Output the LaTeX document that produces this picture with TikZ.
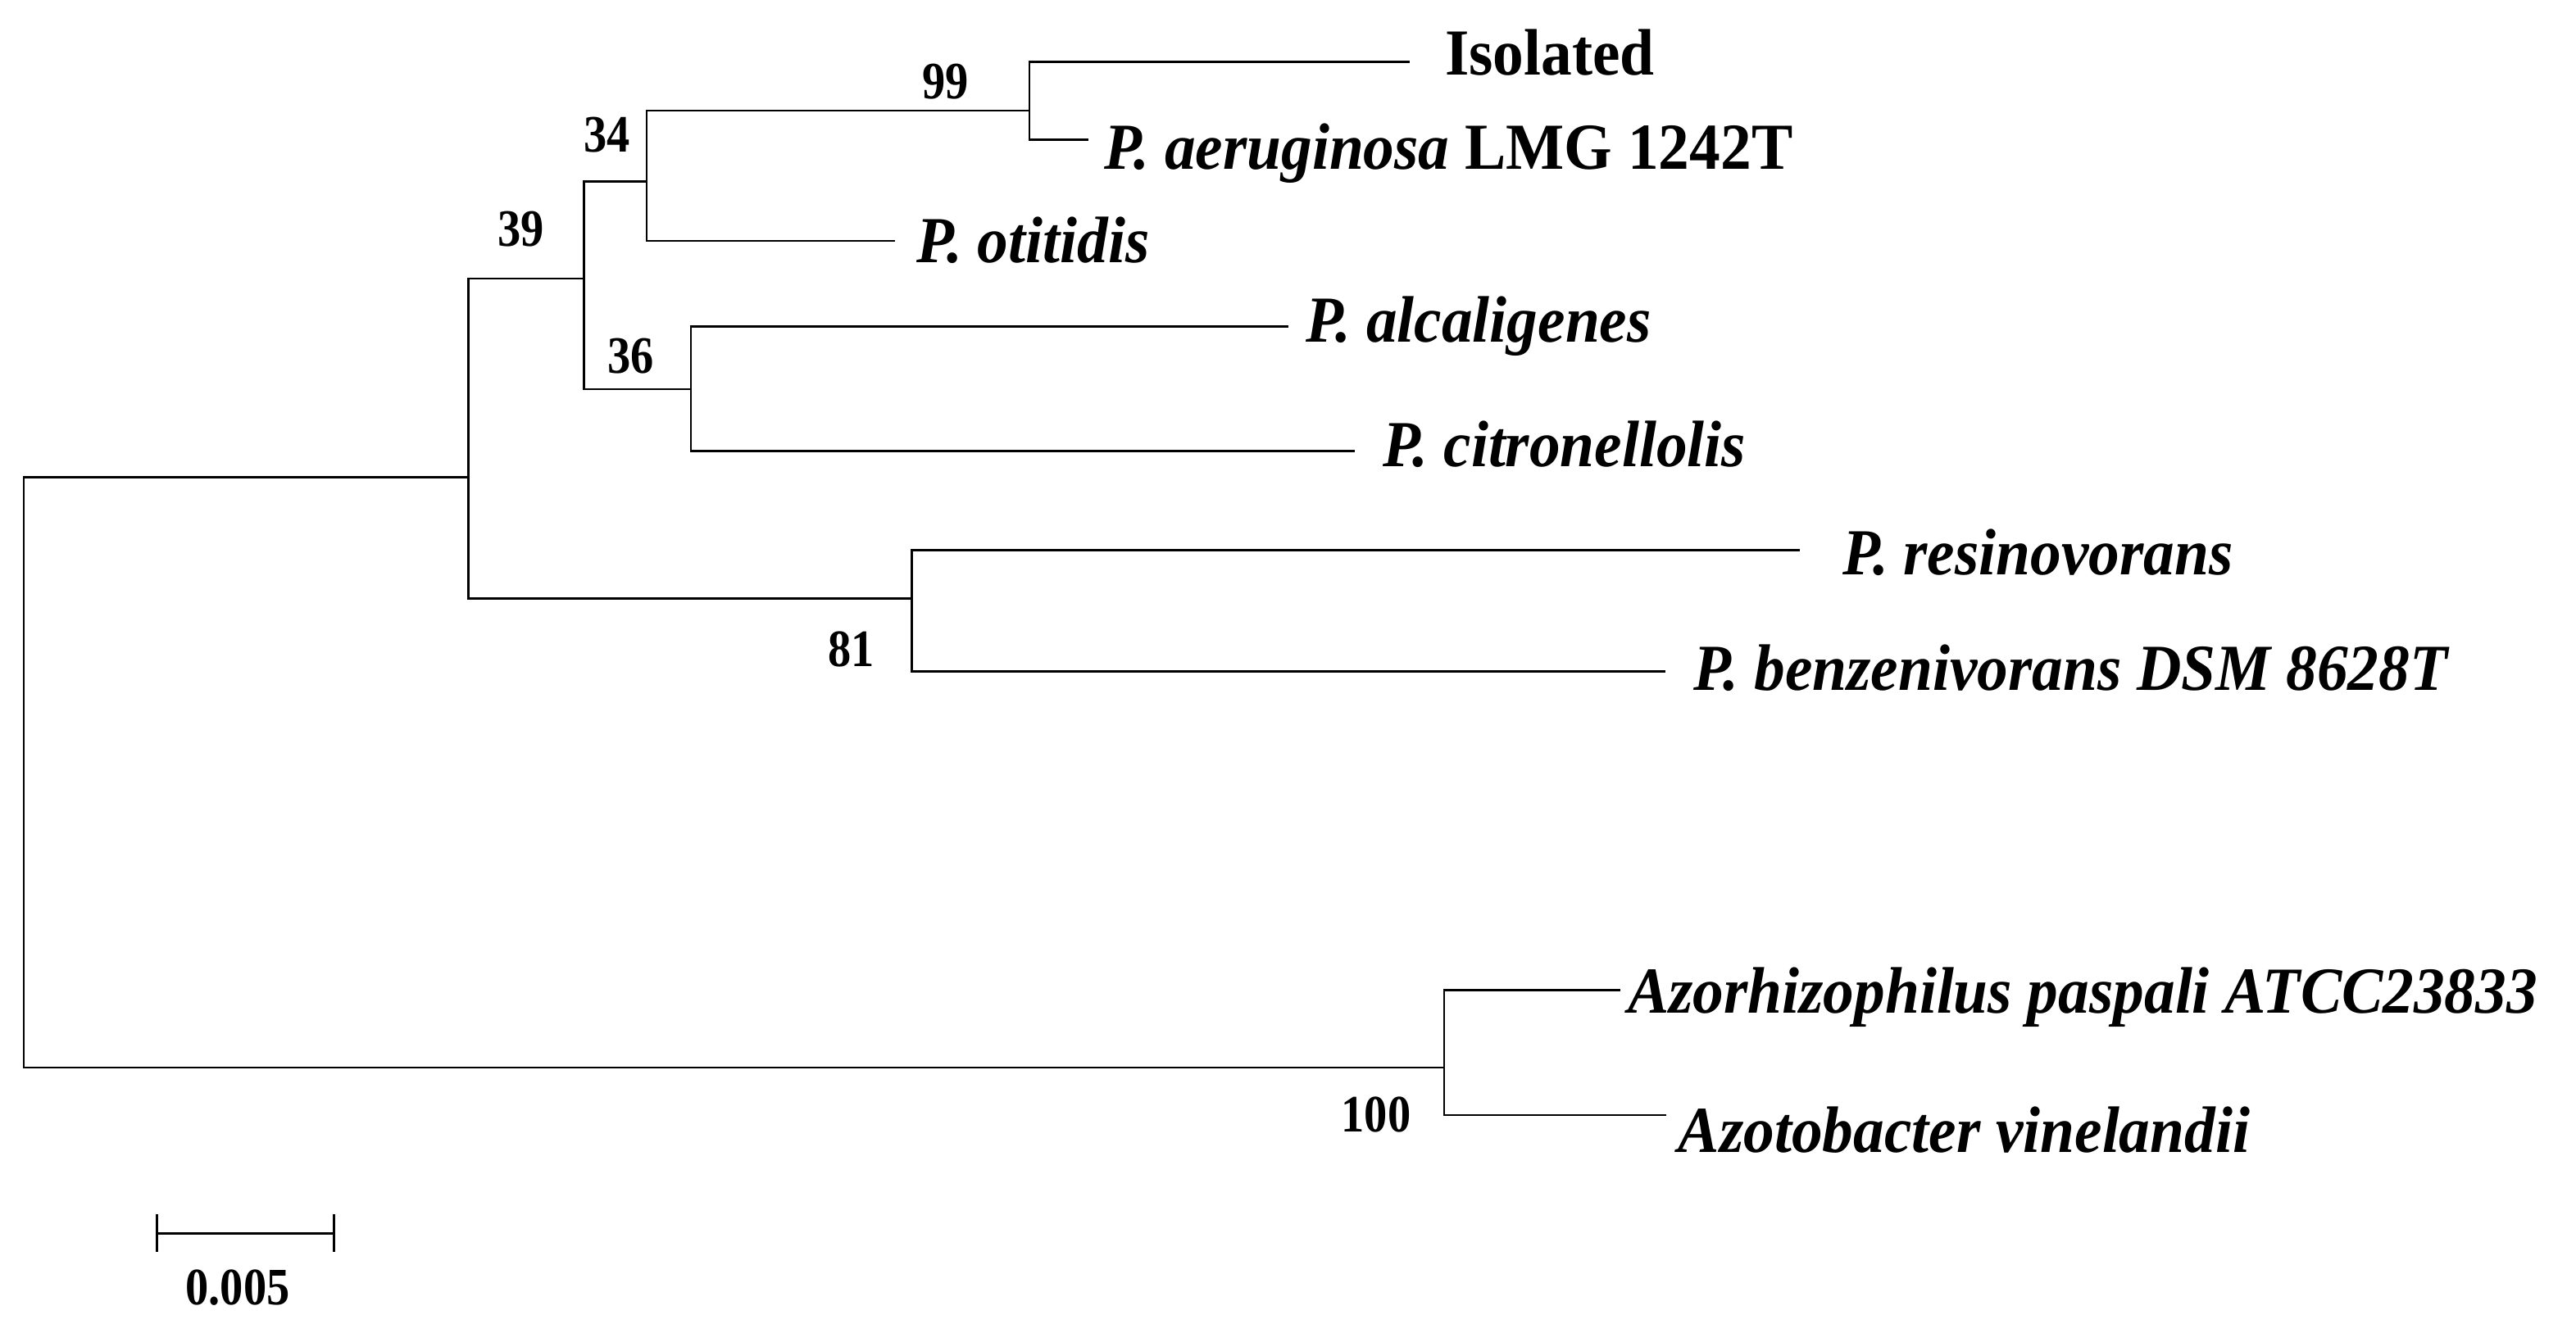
\documentclass[tikz,border=0pt]{standalone}
\usepackage{fontspec}
\setmainfont{Liberation Serif}[FakeStretch=0.94]
\newfontfamily\bsfont{Liberation Serif}[FakeStretch=0.88]
\usetikzlibrary{arrows.meta}

\begin{document}
\begin{tikzpicture}[x=1pt,y=-1pt]
\tikzset{branch/.style={line width=1.4pt,black},
  taxon/.style={anchor=base west,inner sep=0pt,font=\fontsize{40}{44}\selectfont\bfseries},
  sp/.style={taxon,font=\fontsize{40}{44}\selectfont\bfseries\itshape},
  boot/.style={anchor=base,inner sep=0pt,font=\bsfont\fontsize{32}{36}\selectfont\bfseries}}
\useasboundingbox (0,0) rectangle (1568,806);
% internal nodes
\coordinate (root) at (14.5,470);
\coordinate (nIn) at (285,290.6);
\coordinate (n39) at (355.3,169.6);
\coordinate (n34) at (393.6,110.3);
\coordinate (n99) at (626.6,67.3);
\coordinate (n36) at (420.6,237);
\coordinate (n81) at (555,364.5);
\coordinate (n100) at (879,650);
% tips
\coordinate (iso) at (858,37.8);
\coordinate (aer) at (662.6,85);
\coordinate (oti) at (545,146.7);
\coordinate (alc) at (784,199);
\coordinate (cit) at (824.6,274.5);
\coordinate (res) at (1095.5,335);
\coordinate (ben) at (1013.6,409);
\coordinate (azr) at (986.3,603);
\coordinate (azv) at (1014,679);
\draw[branch] (root) |- (nIn);
\draw[branch] (root) |- (n100);
\draw[branch] (nIn) |- (n39);
\draw[branch] (nIn) |- (n81);
\draw[branch] (n39) |- (n34);
\draw[branch] (n39) |- (n36);
\draw[branch] (n34) |- (n99);
\draw[branch] (n34) |- (oti);
\draw[branch] (n99) |- (iso);
\draw[branch] (n99) |- (aer);
\draw[branch] (n36) |- (alc);
\draw[branch] (n36) |- (cit);
\draw[branch] (n81) |- (res);
\draw[branch] (n81) |- (ben);
\draw[branch] (n100) |- (azr);
\draw[branch] (n100) |- (azv);
% taxa
\node[taxon] (tIso) at (879.5,45.8) {Isolated};
\node[taxon] (tAer) at (671.8,103) {\itshape P. aeruginosa\upshape{} LMG 1242T};
\node[sp] (tOti) at (558,160) {P. otitidis};
\node[sp] (tAlc) at (794.6,208.4) {P. alcaligenes};
\node[sp] (tCit) at (841.7,284) {P. citronellolis};
\node[sp] (tRes) at (1121.6,350) {P. resinovorans};
\node[sp] (tBen) at (1030.7,420.4) {P. benzenivorans DSM 8628T};
\node[sp] (tAzr) at (990.6,617) {Azorhizophilus paspali ATCC23833};
\node[sp] (tAzv) at (1021.5,701.7) {Azotobacter vinelandii};
% bootstrap values
\node[boot] (b99) at (575.5,60) {99};
\node[boot] (b34) at (369.6,92.5) {34};
\node[boot] (b39) at (317,150) {39};
\node[boot] (b36) at (384,227) {36};
\node[boot] (b81) at (518,406) {81};
\node[boot] (b100) at (837.6,689.3) {100};
% scale bar
\coordinate (sbL) at (94.8,751);
\coordinate (sbR) at (204,751);
\draw[branch,{Bar[width=23pt]}-{Bar[width=23pt]}] (sbL) -- (sbR);
\node[boot] (sbLab) at (144.7,794.5) {0.005};
\end{tikzpicture}
\end{document}
